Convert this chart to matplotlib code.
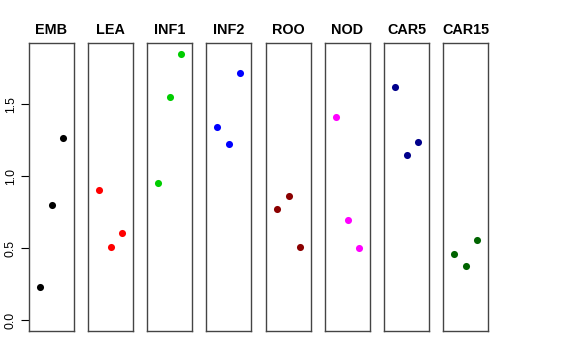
import matplotlib
matplotlib.use("Agg")
import matplotlib.pyplot as plt

tissues = ['EMB', 'LEA', 'INF1', 'INF2', 'ROO', 'NOD', 'CAR5', 'CAR15']
colors = ['black', 'red', '#00CD00', 'blue', '#8B0000', 'magenta', '#00008B', '#006400']

# three replicate values per tissue
values = {
    'EMB':   [0.229, 0.799, 1.264],
    'LEA':   [0.905, 0.507, 0.608],
    'INF1':  [0.953, 1.549, 1.851],
    'INF2':  [1.340, 1.225, 1.717],
    'ROO':   [0.773, 0.863, 0.509],
    'NOD':   [1.411, 0.696, 0.502],
    'CAR5':  [1.623, 1.150, 1.238],
    'CAR15': [0.458, 0.379, 0.557],
}
yticks = [0.0, 0.5, 1.0, 1.5]

W, H = 576, 360
fig = plt.figure(figsize=(W / 100, H / 100), dpi=100)
plt.rcParams['font.family'] = ['Liberation Sans', 'DejaVu Sans']

ymax = max(max(v) for v in values.values())
pad = 0.04 * ymax
lefts = [29, 88, 147, 206, 266, 325, 384, 443]

for i, (name, col) in enumerate(zip(tissues, colors)):
    ax = fig.add_axes([lefts[i] / W, 1 - 331 / H, 45 / W, 288 / H])
    ax.scatter([1, 2, 3], values[name], s=26, color=col, zorder=3, linewidths=0)
    ax.set_xlim(0, 4)
    ax.set_ylim(0 - pad, ymax + pad)
    ax.set_xticks([])
    for sp in ax.spines.values():
        sp.set_color('#444444')
        sp.set_linewidth(1.0)
    ax.set_title(name, fontsize=10.4, fontweight='bold', pad=6.5)
    if i == 0:
        ax.set_yticks(yticks)
        ax.set_yticklabels(['%.1f' % t for t in yticks], rotation=90, va='center', fontsize=8.8)
        ax.tick_params(axis='y', length=5.8, width=0.8, pad=3)
    else:
        ax.set_yticks([])

fig.savefig('out.png', dpi=100)
